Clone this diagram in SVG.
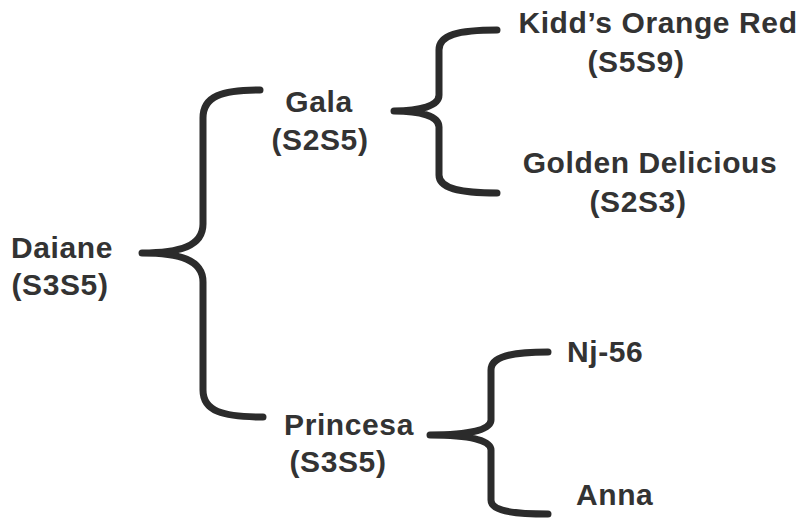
<svg xmlns="http://www.w3.org/2000/svg" width="803" height="519" viewBox="0 0 803 519">
<style>
.t{font-family:"Liberation Sans",Arial,sans-serif;font-weight:bold;font-size:30px;letter-spacing:0.6px;fill:#333;}
.c{text-anchor:middle;}
.b{fill:none;stroke:#2b2b2b;stroke-width:7;stroke-linecap:round;stroke-linejoin:round;}
</style>
<rect width="803" height="519" fill="#fff"/>
<g id="connectors">
<path class="b" d="M260,90 C222,90 203,96 203,118 L203,224 C203,246 180,253 142,253 C180,253 203,260 203,282 L203,390 C203,411 222,417 263,417"/>
<path class="b" d="M497,30 C458,30 439,35 439,50 L439,95 C439,106 420,111 394,111 C420,111 439,116 439,127 L439,175 C439,188 458,193 497,193"/>
<path class="b" d="M548,352 C510,352 491,357 491,370 L491,420 C491,430 470,435 430,435 C470,435 491,440 491,450 L491,500 C491,510 510,514 548,514"/>
</g>
<g id="daiane"><text class="t c" x="62" y="258">Daiane</text><text class="t c" x="60" y="295">(S3S5)</text></g>
<g id="gala"><text class="t c" x="319" y="112">Gala</text><text class="t c" x="320" y="150">(S2S5)</text></g>
<g id="kidds"><text class="t c" x="658" y="33">Kidd’s Orange Red</text><text class="t c" x="636" y="72">(S5S9)</text></g>
<g id="golden"><text class="t c" x="650" y="173">Golden Delicious</text><text class="t c" x="638" y="212">(S2S3)</text></g>
<g id="princesa"><text class="t c" x="349" y="435">Princesa</text><text class="t c" x="338" y="472">(S3S5)</text></g>
<g id="nj56"><text class="t" x="567" y="362">Nj-56</text></g>
<g id="anna"><text class="t" x="576" y="505">Anna</text></g>
</svg>
